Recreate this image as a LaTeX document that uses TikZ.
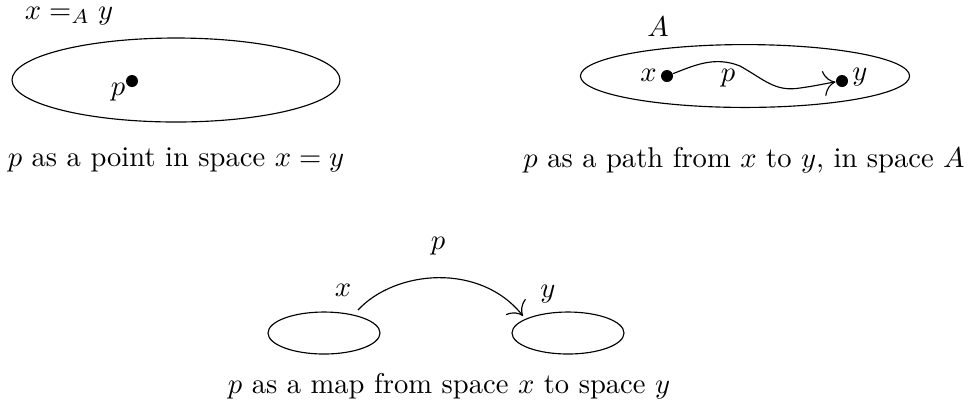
\documentclass[tikz,border=0pt]{standalone}
\usetikzlibrary{shapes.geometric,arrows.meta}
\begin{document}
\begin{tikzpicture}[x=0.35pt,y=-0.35pt,
  >={To[scale=1.7]},
  space/.style={draw,ellipse,inner sep=0pt,outer sep=0pt},
  dotnode/.style={circle,fill,inner sep=0pt,minimum size=4.2pt},
  lbl/.style={inner sep=1pt}]
\useasboundingbox (0,0) rectangle (972,410);
% left figure
\node[lbl] (eqA) at (69,16) {$x =_A y$};
\node[space,minimum width=114.8pt,minimum height=29.4pt] (E1) at (176,80) {};
\node[dotnode] (p1) at (132,81) {};
\node[lbl] (p1l) at (118,92) {$p$};
\node[lbl] (c1) at (176,160) {$p$ as a point in space $x = y$};
% right figure
\node[lbl] (Al) at (658,27) {$A$};
\node[space,minimum width=115.2pt,minimum height=22pt] (E2) at (745,76) {};
\node[dotnode] (xd) at (667,76) {};
\node[dotnode] (yd) at (842,81) {};
\node[lbl,anchor=east] (xl) at (660,75) {$x$};
\node[lbl,anchor=west] (yl) at (849,77) {$y$};
\node[lbl] (pl2) at (728,78) {$p$};
\draw[->] (xd) .. controls (695,65) and (715,56) .. (740,66) .. controls (765,80) and (775,92) .. (800,88) .. controls (815,86) and (828,83) .. (yd);
\node[lbl] (c2) at (744,160) {$p$ as a path from $x$ to $y$, in space $A$};
% bottom figure
\node[space,minimum width=39.2pt,minimum height=14.7pt] (Ex) at (324,333) {};
\node[space,minimum width=39.2pt,minimum height=14.7pt] (Ey) at (568,333) {};
\node[lbl] (xl3) at (343,290) {$x$};
\node[lbl] (yl3) at (548,294) {$y$};
\node[lbl] (pl3) at (438,246) {$p$};
\coordinate (s3) at (358,310);
\coordinate (t3) at (523,316);
\draw[->] (s3) .. controls (395,270) and (480,262) .. (t3);
\node[lbl] (c3) at (449,386) {$p$ as a map from space $x$ to space $y$};
\end{tikzpicture}
\end{document}
